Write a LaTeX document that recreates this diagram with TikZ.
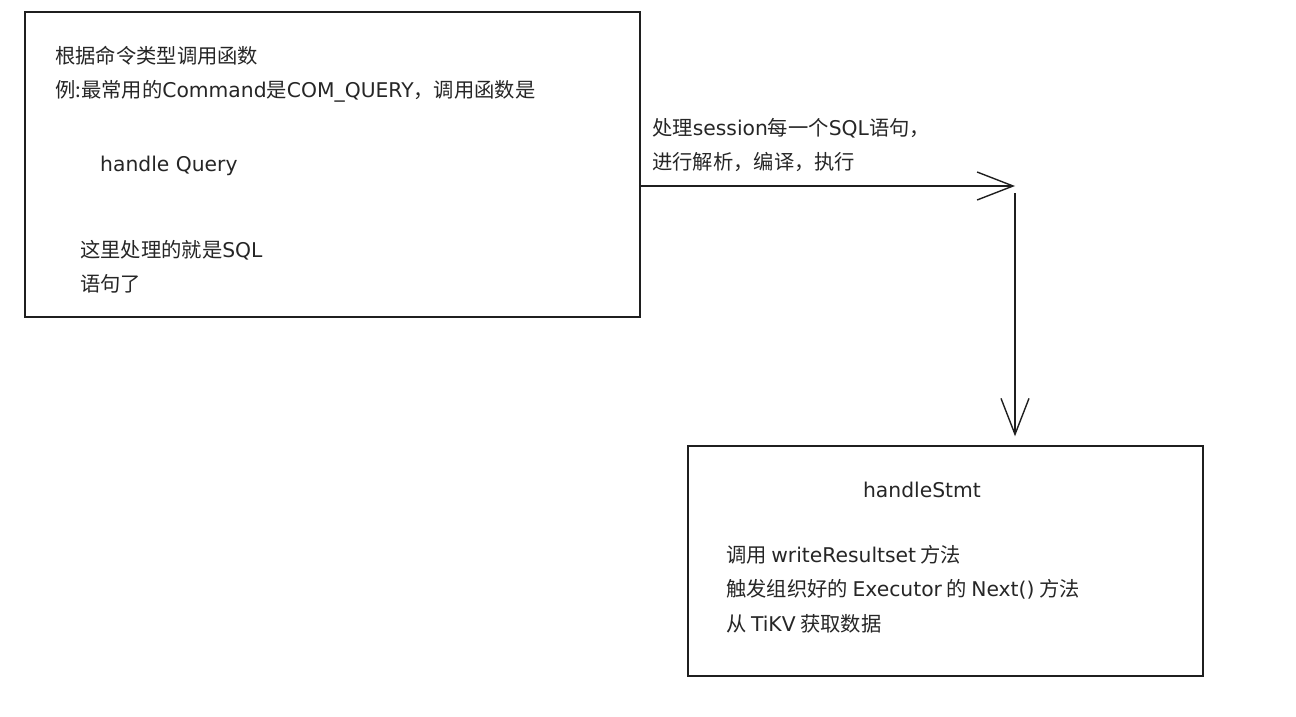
\documentclass[tikz,border=0pt]{standalone}
\usepackage{fontspec}
\setmainfont{Noto Sans CJK SC}
% letras latinas más anchas, como las del boceto
\newfontfamily\mano{DejaVu Sans}
\usetikzlibrary{arrows.meta}

\begin{document}
\begin{tikzpicture}[
    x=1pt, y=-1pt,
    % cajas con borde negro y fondo blanco
    caja/.style={draw=black!88, fill=white, line width=1.4pt, inner sep=0pt},
    % texto alineado a la izquierda
    texto/.style={anchor=west, inner sep=0pt, align=left, text=black!85,
                  font=\fontsize{20.3}{34.5}\selectfont},
    % flecha abierta como en el boceto
    flecha/.style={-{Straight Barb[length=36pt, width=28pt]}, draw=black!88, line width=1.4pt}
]
    \useasboundingbox (0,0) rectangle (1296,717);

    % --- CAJAS ---
    \node[caja, minimum width=615pt, minimum height=305pt] (cmd)  at (332.5,164.5) {};
    \node[caja, minimum width=515pt, minimum height=230pt] (stmt) at (945.5,561) {};

    % --- TEXTO DE LA PRIMERA CAJA ---
    \node[texto] (tipo)   at (55,74)   {根据命令类型调用函数\\例:最常用的{\mano Command}是{\mano COM\_QUERY}，调用函数是};
    \node[texto] (query)  at (100,166) {\mano handle Query};
    \node[texto] (sql)    at (80,267)  {这里处理的就是{\mano SQL}\\语句了};

    % --- TEXTO DE LA SEGUNDA CAJA ---
    \node[texto, anchor=center] (nombre) at (922,490) {\mano handleStmt};
    \node[texto] (pasos)  at (726,589) {调用 {\mano writeResultset} 方法\\触发组织好的 {\mano Executor} 的 {\mano Next()} 方法\\从 {\mano TiKV} 获取数据};

    % --- FLECHAS ---
    \coordinate (giro)   at (1015,186);
    \coordinate (bajada) at (1015,193);
    \draw[flecha] (cmd.east |- giro) -- (giro);
    \draw[flecha, shorten >=9pt] (bajada) -- (stmt.north -| bajada);

    % etiqueta de la flecha
    \node[texto] (proceso) at (652,145) {处理{\mano session}每一个{\mano SQL}语句，\\进行解析，编译，执行};

\end{tikzpicture}
\end{document}
